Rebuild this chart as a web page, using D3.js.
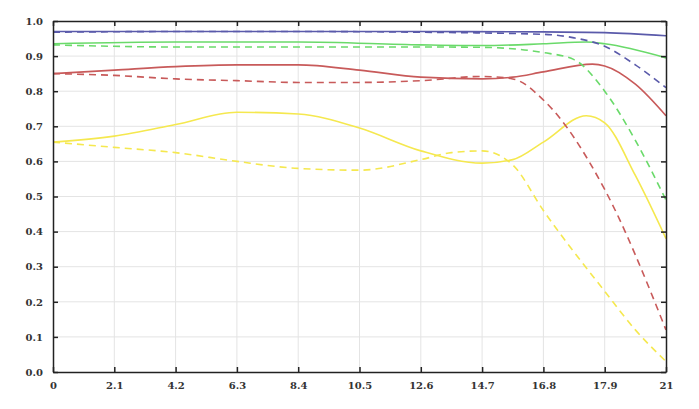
<!DOCTYPE html>
<html><head><meta charset="utf-8">
<script src="https://cdn.jsdelivr.net/npm/d3@7"></script>
<style>body{margin:0;background:#fff}</style>
</head><body><svg id="c" width="699" height="409"></svg>
<script>
const xLabels=["0","2.1","4.2","6.3","8.4","10.5","12.6","14.7","16.8","17.9","21"];
const yTicks=[0,0.1,0.2,0.3,0.4,0.5,0.6,0.7,0.8,0.9,1.0];
// x positions are tick indices
const blueSolid=[[0,0.97],[2,0.97],[4,0.97],[6,0.97],[8,0.969],[9,0.967],[10,0.958]];
const blueDash=[[0,0.968],[2,0.97],[4,0.97],[6,0.968],[8,0.962],[8.5,0.952],[9,0.928],[9.5,0.875],[10,0.81]];
const greenSolid=[[0,0.935],[2,0.94],[4,0.94],[6,0.932],[7,0.93],[8,0.935],[8.7,0.94],[9,0.935],[10,0.895]];
const greenDash=[[0,0.932],[2,0.926],[4,0.926],[6,0.926],[7,0.925],[8,0.91],[8.5,0.89],[9,0.8],[9.5,0.66],[10,0.49]];
const redSolid=[[0,0.85],[1,0.86],[2,0.87],[3,0.875],[4,0.875],[5,0.86],[6,0.84],[7,0.835],[7.5,0.84],[8,0.855],[8.8,0.877],[9,0.872],[9.5,0.82],[10,0.73]];
const redDash=[[0,0.85],[1,0.845],[2,0.835],[3,0.83],[4,0.825],[5,0.825],[6,0.83],[7,0.842],[7.5,0.835],[8,0.775],[9,0.52],[10,0.12]];
const yellowSolid=[[0,0.655],[1,0.672],[2,0.705],[3,0.74],[4,0.735],[5,0.695],[6,0.63],[7,0.595],[7.5,0.605],[8,0.655],[8.7,0.73],[9,0.71],[9.5,0.56],[10,0.38]];
const yellowDash=[[0,0.655],[1,0.64],[2,0.625],[3,0.6],[4,0.58],[5,0.575],[6,0.605],[6.5,0.625],[7,0.63],[7.5,0.59],[8,0.46],[9,0.23],[9.5,0.12],[10,0.03]];
const series=[
 {d:yellowDash,c:"#f5e84f",dash:"7,5"},{d:yellowSolid,c:"#f5e84f"},
 {d:redDash,c:"#c85a5a",dash:"7,5"},{d:redSolid,c:"#c85a5a"},
 {d:greenDash,c:"#6ada6a",dash:"7,5"},{d:greenSolid,c:"#6ada6a"},
 {d:blueDash,c:"#5a5aaa",dash:"7,5"},{d:blueSolid,c:"#5a5aaa"}];
const L=53,R=666,T=21,B=372;
const svg=d3.select("#c");
const x=d3.scaleLinear().domain([0,10]).range([L,R]);
const y=d3.scaleLinear().domain([0,1]).range([B,T]);
const g=svg.append("g");
g.selectAll(".vg").data(d3.range(1,10)).join("line").attr("x1",d=>x(d)).attr("x2",d=>x(d)).attr("y1",T).attr("y2",B).attr("stroke","#e4e4e4");
g.selectAll(".hg").data(yTicks.slice(1,10)).join("line").attr("y1",d=>y(d)).attr("y2",d=>y(d)).attr("x1",L).attr("x2",R).attr("stroke","#e4e4e4");
const line=d3.line().x(d=>x(d[0])).y(d=>y(d[1])).curve(d3.curveMonotoneX);
series.forEach(s=>svg.append("path").attr("d",line(s.d)).attr("fill","none").attr("stroke",s.c).attr("stroke-width",1.6).attr("stroke-dasharray",s.dash||null));
svg.append("g").attr("transform",`translate(0,${B})`).call(d3.axisBottom(x).tickValues(d3.range(0,11)).tickFormat(i=>xLabels[i]).tickSizeInner(-5).tickSizeOuter(0).tickPadding(10));
svg.append("g").attr("transform",`translate(0,${T})`).call(d3.axisTop(x).tickValues(d3.range(0,11)).tickFormat("").tickSizeInner(-5).tickSizeOuter(0));
svg.append("g").attr("transform",`translate(${L},0)`).call(d3.axisLeft(y).tickValues(yTicks).tickFormat(d3.format(".1f")).tickSizeInner(-5).tickSizeOuter(0).tickPadding(10));
svg.append("g").attr("transform",`translate(${R},0)`).call(d3.axisRight(y).tickValues(yTicks).tickFormat("").tickSizeInner(-5).tickSizeOuter(0));
svg.selectAll(".domain").attr("stroke","#222").attr("stroke-width",1.5);
svg.selectAll(".tick line").attr("stroke","#222").attr("stroke-width",1.5);
svg.selectAll(".tick text").attr("font-family","DejaVu Serif").attr("font-weight","bold").attr("font-size",10).attr("fill","#333");
</script></body></html>
